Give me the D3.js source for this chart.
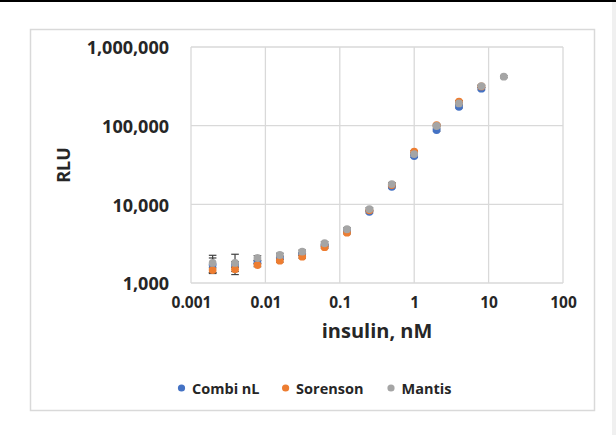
<!DOCTYPE html>
<html>
<head>
<meta charset="utf-8">
<script src="https://cdn.jsdelivr.net/npm/d3@7"></script>
<style>
  html, body { margin: 0; padding: 0; background: #fff; }
  svg { display: block; }
  text { font-family: "Open Sans", "Liberation Sans", sans-serif; font-weight: bold; fill: #262626; }
</style>
</head>
<body>
<svg id="chart" width="616" height="435"></svg>
<script>
// ---- data ----
const concentrations = [0.001953, 0.003906, 0.0078125, 0.015625, 0.03125, 0.0625, 0.125, 0.25, 0.5, 1, 2, 4, 8, 16];
const seriesNames = ["Combi nL", "Sorenson", "Mantis"];
const combiValues    = [1700, 1720, 1850, 2100, 2350, 3000, 4600, 8050, 16700, 41100, 88100, 174000, 295000, null];
const sorensonValues = [1460, 1500, 1690, 1920, 2160, 2850, 4360, 8400, 17600, 46600, 101800, 202000, 315000, null];
const mantisValues   = [1800, 1800, 2080, 2270, 2500, 3200, 4820, 8700, 18100, 43600, 99000, 192000, 319000, 419000];
const combiErrors    = [380, 150, 100, 100, 100, 120, 150, 300, 500, 1500, 3000, 6000, 10000, null];
const sorensonErrors = [100, 100, 80, 80, 90, 100, 150, 300, 600, 1500, 3000, 6000, 10000, null];
const mantisErrors   = [450, 520, 150, 120, 120, 150, 200, 400, 800, 1500, 3000, 6000, 10000, 12000];
const xTicks = [0.001, 0.01, 0.1, 1, 10, 100];
const yTicks = [1000, 10000, 100000, 1000000];
const colors = ["#4472C4", "#ED7D31", "#A5A5A5"];

const series = [
  { name: seriesNames[0], values: combiValues, errors: combiErrors, color: colors[0] },
  { name: seriesNames[1], values: sorensonValues, errors: sorensonErrors, color: colors[1] },
  { name: seriesNames[2], values: mantisValues, errors: mantisErrors, color: colors[2] }
];

const svg = d3.select("#chart");

// page decorations
svg.append("rect").attr("x", 0).attr("y", 0).attr("width", 616).attr("height", 2).attr("fill", "#000");
svg.append("rect").attr("x", 612).attr("y", 2).attr("width", 4).attr("height", 433).attr("fill", "#f0f0f0");
svg.append("rect").attr("x", 30.5).attr("y", 29.5).attr("width", 564).attr("height", 381)
  .attr("fill", "#fff").attr("stroke", "#d9d9d9").attr("stroke-width", 1.5);

const pLeft = 191, pRight = 563, pTop = 47, pBottom = 283;
const x = d3.scaleLog().domain([0.001, 100]).range([pLeft, pRight]);
const y = d3.scaleLog().domain([1000, 1000000]).range([pBottom, pTop]);

// gridlines
const grid = svg.append("g").attr("stroke", "#d9d9d9").attr("stroke-width", 1.3);
grid.selectAll("line.v").data(xTicks).join("line").attr("class", "v")
  .attr("x1", d => x(d)).attr("x2", d => x(d)).attr("y1", pTop).attr("y2", pBottom);
grid.selectAll("line.h").data(yTicks).join("line").attr("class", "h")
  .attr("x1", pLeft).attr("x2", pRight).attr("y1", d => y(d)).attr("y2", d => y(d));

// axes (labels only, via d3 axis)
const fmt = d3.format(",");
const yAxis = d3.axisLeft(y).tickValues(yTicks).tickFormat(fmt).tickSize(0).tickPadding(22);
const gy = svg.append("g").attr("transform", `translate(${pLeft},0)`).call(yAxis);
gy.select(".domain").remove();
gy.selectAll("text").attr("font-size", 18).attr("font-family", null).attr("fill", "#262626").attr("dy", "0.38em");

const xAxis = d3.axisBottom(x).tickValues(xTicks).tickFormat(d => String(d)).tickSize(0).tickPadding(14);
const gx = svg.append("g").attr("transform", `translate(0,${pBottom})`).call(xAxis);
gx.select(".domain").remove();
gx.selectAll("text").attr("font-size", 15.5).attr("font-family", null).attr("fill", "#262626");

// axis titles
svg.append("text").attr("x", (pLeft + pRight) / 2).attr("y", 338).attr("text-anchor", "middle")
  .attr("font-size", 20).text("insulin, nM");
svg.append("text").attr("transform", "translate(70,165) rotate(-90)").attr("text-anchor", "middle")
  .attr("font-size", 18).text("RLU");

// series points
const seriesPts = series.map(s => ({
  s,
  pts: concentrations.map((c, i) => ({ c, v: s.values[i], e: s.errors[i] })).filter(p => p.v != null)
}));

// error bars (behind markers)
const capHalf = 3.8;
const eb = svg.append("g").attr("stroke", "#404040").attr("stroke-width", 1.2);
seriesPts.forEach(({ pts }) => {
  pts.forEach(p => {
    if (!p.e) return;
    const cx = x(p.c), y1 = y(p.v + p.e), y0 = y(Math.max(p.v - p.e, 1001));
    eb.append("line").attr("x1", cx).attr("x2", cx).attr("y1", y1).attr("y2", y0);
    eb.append("line").attr("x1", cx - capHalf).attr("x2", cx + capHalf).attr("y1", y1).attr("y2", y1);
    eb.append("line").attr("x1", cx - capHalf).attr("x2", cx + capHalf).attr("y1", y0).attr("y2", y0);
  });
});

// markers
seriesPts.forEach(({ s, pts }) => {
  svg.append("g").selectAll("circle").data(pts).join("circle")
    .attr("cx", p => x(p.c)).attr("cy", p => y(p.v)).attr("r", 3.9).attr("fill", s.color);
});

// legend
const legendX = [181.5, 285.6, 391];
const lg = svg.append("g");
series.forEach((s, i) => {
  lg.append("circle").attr("cx", legendX[i]).attr("cy", 388).attr("r", 3.6).attr("fill", s.color);
  lg.append("text").attr("x", legendX[i] + 10.5).attr("y", 393.5).attr("font-size", 14.5).text(s.name);
});
</script>
</body>
</html>
